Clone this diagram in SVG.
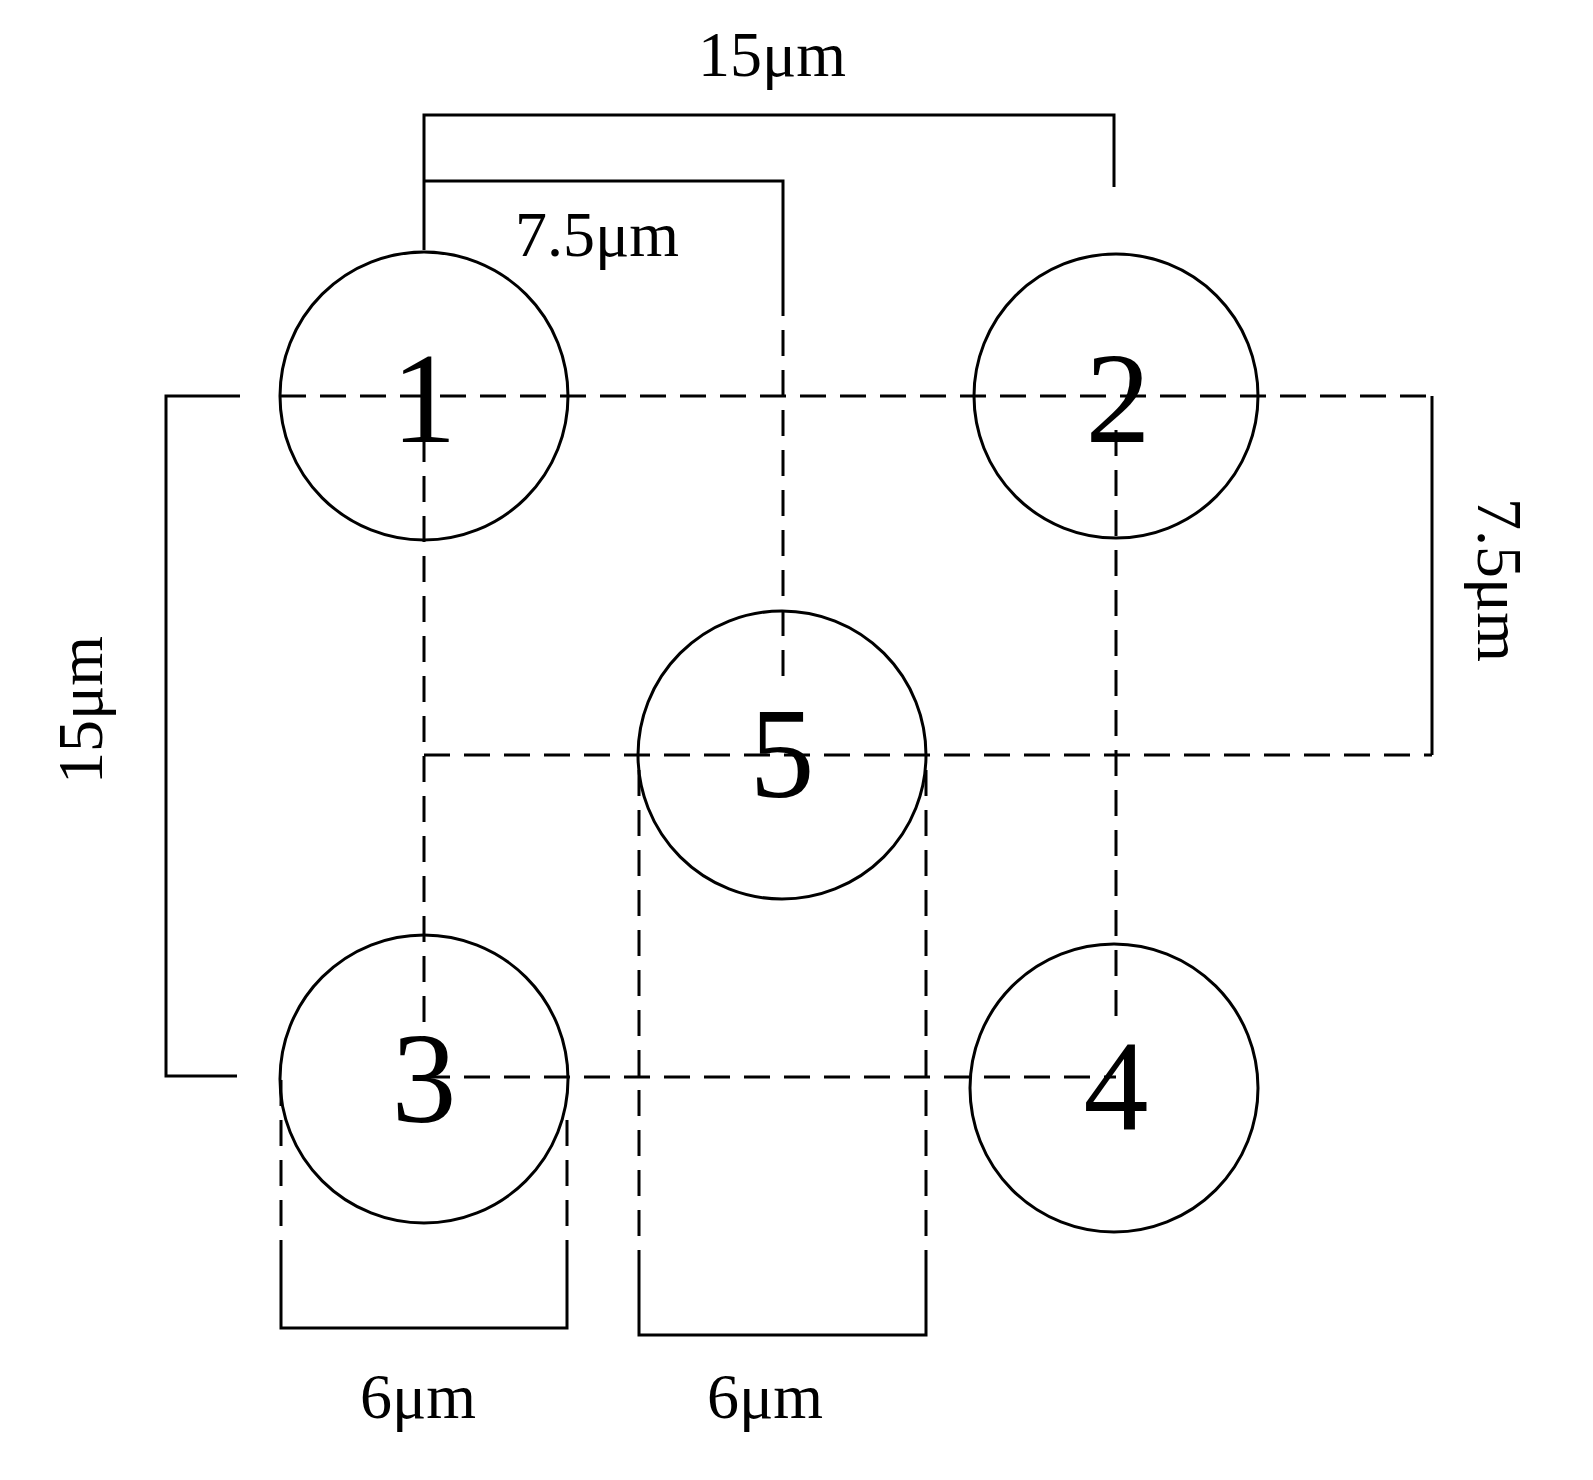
<svg xmlns="http://www.w3.org/2000/svg" width="1593" height="1480" viewBox="0 0 1593 1480">
<style>
.c{fill:none;stroke:#000;stroke-width:3}
.s{fill:none;stroke:#000;stroke-width:3}
.d{fill:none;stroke:#000;stroke-width:3;stroke-dasharray:26 14}
.t{font-family:"Liberation Serif",serif;font-size:64px;text-anchor:middle}
.n{font-family:"Liberation Serif",serif;font-size:130px;text-anchor:middle}
</style>
<rect width="1593" height="1480" fill="#fff"/>
<g id="connectors">
<path class="s" d="M424,250V115H1114V187"/>
<path class="s" d="M424,181H783V290"/>
<path class="d" d="M783,290V690"/>
<path class="s" d="M240,396H166V1076H237"/>
<path class="d" d="M280,396H1432"/>
<path class="s" d="M1432,396V755"/>
<path class="d" d="M424,755H1432"/>
<path class="d" d="M424,396V1040"/>
<path class="d" d="M1116,430V1020"/>
<path class="d" d="M424,1077H1116"/>
<path class="d" d="M281,1080V1260"/>
<path class="d" d="M567,1120V1260"/>
<path class="s" d="M281,1260V1328H567V1260"/>
<path class="d" d="M639,770V1270"/>
<path class="d" d="M926,770V1270"/>
<path class="s" d="M639,1270V1335H926V1270"/>
</g>
<g id="node1"><circle class="c" cx="424" cy="396" r="144"/><text class="n" x="424" y="442">1</text></g>
<g id="node2"><circle class="c" cx="1116" cy="396" r="142"/><text class="n" x="1118" y="442">2</text></g>
<g id="node5"><circle class="c" cx="782" cy="755" r="144"/><text class="n" x="782" y="797">5</text></g>
<g id="node3"><circle class="c" cx="424" cy="1079" r="144"/><text class="n" x="424" y="1122">3</text></g>
<g id="node4"><circle class="c" cx="1114" cy="1088" r="144"/><text class="n" x="1116" y="1130">4</text></g>
<g id="labels">
<text class="t" x="772" y="76">15μm</text>
<text class="t" x="597" y="256">7.5μm</text>
<text class="t" transform="translate(102,710) rotate(-90)">15μm</text>
<text class="t" transform="translate(1478,580) rotate(90)">7.5μm</text>
<text class="t" x="418" y="1418">6μm</text>
<text class="t" x="765" y="1418">6μm</text>
</g>
</svg>
